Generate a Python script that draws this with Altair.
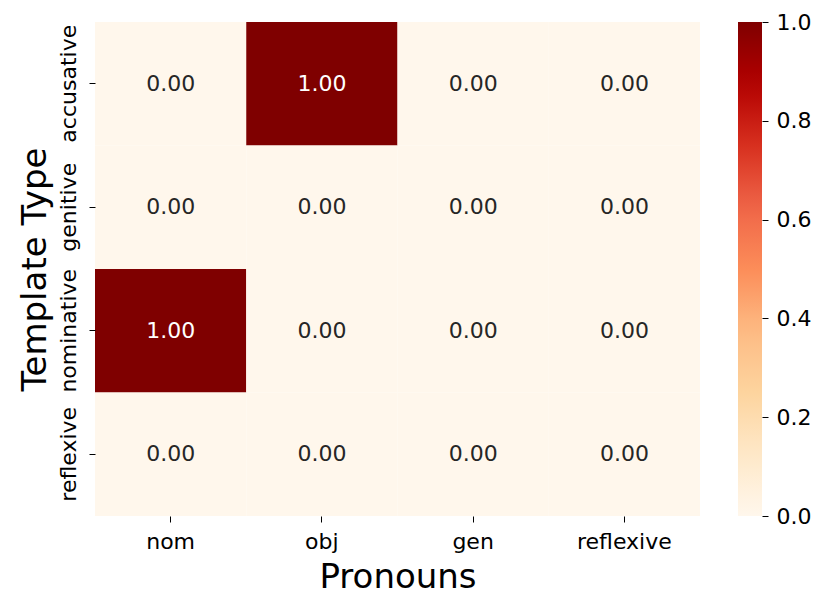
import altair as alt
import pandas as pd

rows = ["accusative", "genitive", "nominative", "reflexive"]
cols = ["nom", "obj", "gen", "reflexive"]
values = [
    [0.0, 1.0, 0.0, 0.0],
    [0.0, 0.0, 0.0, 0.0],
    [1.0, 0.0, 0.0, 0.0],
    [0.0, 0.0, 0.0, 0.0],
]
orrd = ["#fff7ec", "#fee8c8", "#fdd49e", "#fdbb84", "#fc8d59",
        "#ef6548", "#d7301f", "#b30000", "#7f0000"]
legend_ticks = [0, 0.2, 0.4, 0.6, 0.8, 1.0]

records = []
for i, r in enumerate(rows):
    for j, c in enumerate(cols):
        records.append({"template": r, "pronoun": c, "value": values[i][j]})
df = pd.DataFrame(records)

FONT = "DejaVu Sans"
FS = 22
cscale = alt.Scale(domain=[0, 1], range=orrd, interpolate="rgb")

xenc = alt.X("pronoun:N", sort=cols, title="Pronouns",
             axis=alt.Axis(labelAngle=0, labelFontSize=FS, titleFontSize=34,
                           titleFontWeight="normal", domain=False, tickSize=6,
                           tickColor="black", labelColor="black", titleColor="black",
                           labelPadding=9, titlePadding=8, labelFont=FONT, titleFont=FONT))

base = alt.Chart(df).encode(
    x=xenc,
    y=alt.Y("template:N", sort=rows, title="Template Type",
            axis=alt.Axis(labelAngle=270, labelAlign="center", labelBaseline="bottom",
                          labelFontSize=FS, titleFontSize=34, titleFontWeight="normal",
                          domain=False, tickSize=6, tickColor="black", labelColor="black",
                          titleColor="black", labelPadding=9, titlePadding=5,
                          labelFont=FONT, titleFont=FONT)),
)

rect = base.mark_rect().encode(
    color=alt.Color("value:Q", scale=cscale,
                    legend=alt.Legend(title=None, orient="none", legendX=643, legendY=0,
                                      type="gradient",
                                      direction="vertical", gradientLength=494,
                                      gradientThickness=24, gradientStrokeWidth=0,
                                      labelExpr="''", labelFontSize=1,
                                      values=legend_ticks)),
)

text = base.mark_text(fontSize=FS, font=FONT).encode(
    text=alt.Text("value:Q", format=".2f"),
    color=alt.condition(alt.datum.value > 0.5, alt.value("white"), alt.value("#262626")),
)

# colorbar axis (ticks + labels to the right of the gradient)
cbar_axis = alt.Chart(df).mark_point(opacity=0).encode(
    x=xenc,
    y=alt.Y("value:Q", scale=alt.Scale(domain=[0, 1], nice=False, zero=False),
            axis=alt.Axis(orient="right", offset=62, values=legend_ticks, format=".1f",
                          domain=False, grid=False, tickSize=6, tickColor="black",
                          labelColor="black", labelFontSize=FS, labelFont=FONT,
                          labelPadding=8, title=None, labelFlush=False)),
)

heat = alt.layer(rect, text)
chart = alt.layer(heat, cbar_axis).resolve_scale(y="independent").properties(
    width=605, height=494,
    autosize=alt.AutoSizeParams(type="none"),
    padding={"left": 87, "top": 14, "right": 120, "bottom": 90},
).configure_view(stroke=None).configure_scale(bandPaddingInner=0, bandPaddingOuter=0)

chart.save("out.html", embed_options={"renderer": "svg", "actions": False})
